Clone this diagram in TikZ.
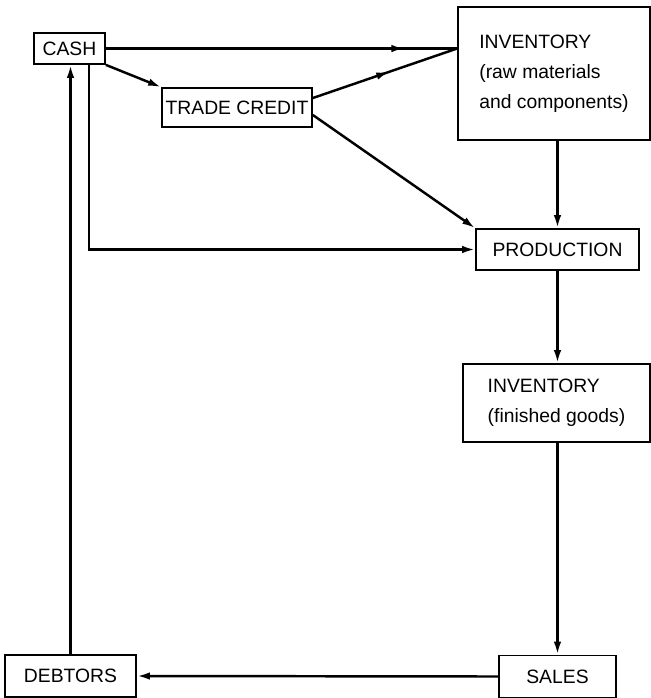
\documentclass[tikz,border=0pt]{standalone}
\usepackage{fontspec}
\setmainfont{Liberation Sans}
\usetikzlibrary{shapes,arrows,arrows.meta,decorations.markings}
\tikzstyle{block} = [rectangle, draw, line width=1pt, align=center, inner sep=0pt, font=\fontsize{11}{17}\selectfont]
\tikzstyle{line} = [draw, line width=1.4pt, -{Latex[length=2.6mm,width=1.5mm]}]
\tikzstyle{midarrow} = [draw, line width=1.4pt, postaction={decorate}, decoration={markings, mark=at position #1 with {\arrow{Latex[length=2.6mm,width=1.5mm]}}}]

\begin{document}
\begin{tikzpicture}[x=0.02cm, y=-0.02cm]
\useasboundingbox (0, 0) rectangle (651, 698);

% money side
\node [block, minimum width=1.42cm, minimum height=0.62cm] at (69.5, 48.5) (cash) {CASH};
\node [block, minimum width=3cm, minimum height=0.78cm] at (237, 107.5) (trade) {TRADE CREDIT};
\node [block, minimum width=2.62cm, minimum height=0.84cm] at (70.5, 676) (debtors) {DEBTORS};

% goods side
\node [block, align=left, minimum width=3.84cm, minimum height=2.66cm] at (554, 73.5) (invraw) {INVENTORY\\(raw materials\\and components)};
\node [block, minimum width=3.26cm, minimum height=0.82cm] at (557.5, 249.5) (prod) {PRODUCTION};
\node [block, align=left, minimum width=3.74cm, minimum height=1.56cm] at (556.5, 403) (invfin) {INVENTORY\\(finished goods)};
\node [block, minimum width=2.34cm, minimum height=0.84cm] at (557.5, 676.5) (sales) {SALES};

\coordinate (join) at (cash.east -| invraw.west);

% flows
\path [midarrow=0.85] (cash.east) to (join);
\path [midarrow=0.53] ([yshift=0.19cm]trade.east) to (join);
\path [line] (cash.south east) to (trade.north west);
\path [line] ([yshift=-0.15cm]trade.east) to (prod.north west);
\path [line] ([xshift=0.39cm]cash.south) |- (prod.west);
\path [line] (prod.north |- invraw.south) to (prod.north);
\path [line] (prod.south) to (prod.south |- invfin.north);
\path [line] (sales.north |- invfin.south) to (sales.north);
\path [line] (sales.west) to (debtors.east);
\path [line] (debtors.north) to (debtors.north |- cash.south);

\end{tikzpicture}
\end{document}
